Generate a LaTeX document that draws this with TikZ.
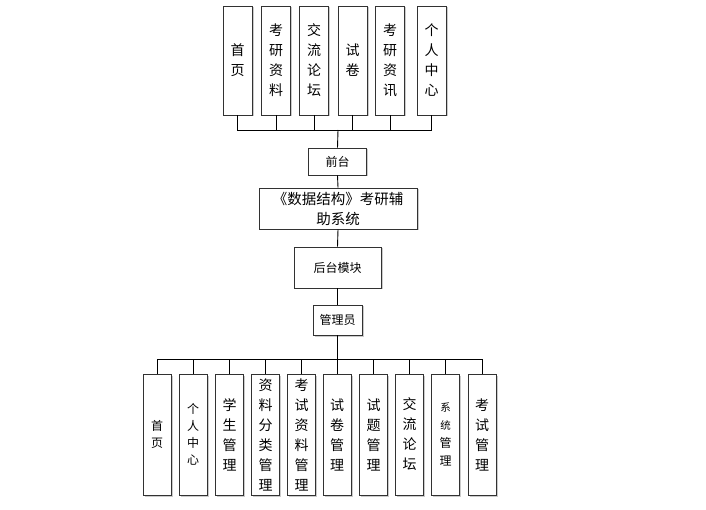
\documentclass[tikz,border=0pt]{standalone}
\usepackage{fontspec}
\setmainfont{Noto Sans CJK SC}
\usepackage{xcolor}
\usetikzlibrary{shadows}
\definecolor{boxline}{RGB}{50,50,50}
\definecolor{shade}{RGB}{190,190,190}
\newcommand{\tinych}[1]{{\fontsize{10.5}{16}\selectfont #1}}

\begin{document}
\begin{tikzpicture}[x=1pt,y=-1pt,line width=0.9pt,
  box/.style={draw=boxline, fill=white, inner sep=0pt, align=center,
    drop shadow={shadow xshift=1.5pt, shadow yshift=-1.5pt, fill=shade, opacity=0.8}},
  colbox/.style={box, minimum width=29pt, minimum height=109pt, font=\fontsize{14}{20}\selectfont},
  lowbox/.style={box, minimum width=28pt, minimum height=121pt, font=\fontsize{14}{20}\selectfont},
  smalltext/.style={font=\fontsize{12}{17}\selectfont}]
  \useasboundingbox (0,0) rectangle (706,510);
  % front end items
  \node[colbox] (t1) at (237.5,60.5) {首\\页};
  \node[colbox] (t2) at (276,60.5) {考\\研\\资\\料};
  \node[colbox] (t3) at (314,60.5) {交\\流\\论\\坛};
  \node[colbox] (t4) at (352.5,60.5) {试\\卷};
  \node[colbox] (t5) at (390,60.5) {考\\研\\资\\讯};
  \node[colbox] (t6) at (431.5,60.5) {个\\人\\中\\心};
  \coordinate (topbus) at (338,130);
  \foreach \i in {1,...,6} \draw (t\i.south) |- (topbus);
  % main chain
  \node[box, minimum width=58pt, minimum height=27pt, smalltext] (front) at (337.5,161.5) {前台};
  \node[box, minimum width=158pt, minimum height=41pt, font=\fontsize{14.5}{20}\selectfont] (sys) at (338,208.5) {《数据结构》考研辅\\助系统};
  \node[box, minimum width=87pt, minimum height=41pt, smalltext] (back) at (337.5,267.5) {后台模块};
  \node[box, minimum width=49pt, minimum height=30pt, smalltext] (admin) at (337.5,320) {管理员};
  \draw (topbus) -- (front.north);
  \draw (front.south) -- (sys.north);
  \draw (sys.south) -- (back.north);
  \draw (back.south) -- (admin.north);
  % back end items
  \node[lowbox, smalltext] (b1) at (157,434.5) {首\\页};
  \node[lowbox, smalltext] (b2) at (193,434.5) {个\\人\\中\\心};
  \node[lowbox] (b3) at (229.5,434.5) {学\\生\\管\\理};
  \node[lowbox] (b4) at (265.5,434.5) {资\\料\\分\\类\\管\\理};
  \node[lowbox] (b5) at (301.5,434.5) {考\\试\\资\\料\\管\\理};
  \node[lowbox] (b6) at (337,434.5) {试\\卷\\管\\理};
  \node[lowbox] (b7) at (373.5,434.5) {试\\题\\管\\理};
  \node[lowbox] (b8) at (409.5,434.5) {交\\流\\论\\坛};
  \node[lowbox, font=\fontsize{12}{18}\selectfont] (b9) at (445.5,434.5) {\tinych{系}\\\tinych{统}\\管\\理};
  \node[lowbox] (b10) at (482,434.5) {考\\试\\管\\理};
  \coordinate (botbus) at (337.5,359);
  \foreach \i in {1,...,10} \draw (b\i.north) |- (botbus);
  \draw (admin.south) -- (botbus);
\end{tikzpicture}
\end{document}
